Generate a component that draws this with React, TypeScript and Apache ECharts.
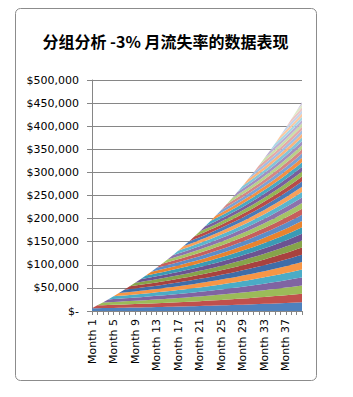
import React, { useEffect, useRef } from "react";
import * as echarts from "echarts";

// Month categories (40 months)
const months: string[] = Array.from({ length: 40 }, (_, i) => `Month ${i + 1}`);

// Revenue of one cohort by its age in months (a new cohort joins every month)
const cohortRevenueByAge: number[] = [
  6000, 6180, 6365, 6556, 6753, 6956, 7164, 7379, 7601, 7829,
  8063, 8305, 8555, 8811, 9076, 9348, 9628, 9917, 10215, 10521,
  10837, 11162, 11497, 11842, 12197, 12563, 12940, 13328, 13728, 14139,
  14564, 15000, 15450, 15914, 16391, 16883, 17390, 17911, 18449, 19002,
];

// Cohort start month index (cohort k starts in month k)
const cohortStarts: number[] = Array.from({ length: 40 }, (_, i) => i);

const yTicks = { min: 0, max: 500000, interval: 50000 };

const titleText = "分组分析 -3% 月流失率的数据表现";

const palette: string[] = [
  "#4F81BD", "#C0504D", "#9BBB59", "#8064A2", "#4BACC6", "#F79646",
  "#3F6DA8", "#A8423F", "#86A44A", "#6C5391", "#3A9BB5", "#E8832F",
  "#5B8DC8", "#C65F5C", "#A5C467", "#8C72AC", "#5AB6CE", "#F8A05A",
  "#4A7BB8", "#B84B48", "#94B655", "#7A5E9C", "#48A8C2", "#F38F45",
  "#7BA3D4", "#D48684", "#B8D189", "#A28FC0", "#82C5D8", "#FAB47E",
  "#A3BEE2", "#E2AAA8", "#CCDEAA", "#BCAED2", "#A8D7E5", "#FCC9A2",
  "#C3D4EC", "#ECC6C5", "#DEE9C8", "#D2C9E2",
];

export default function App() {
  const ref = useRef<HTMLDivElement>(null);
  useEffect(() => {
    if (!ref.current) return;
    const chart = echarts.init(ref.current, undefined, { renderer: "svg" });
    const series = cohortStarts.map((start, k) => ({
      name: `Cohort ${k + 1}`,
      type: "line" as const,
      stack: "total",
      showSymbol: false,
      symbol: "none",
      lineStyle: { width: 0 },
      areaStyle: { color: palette[k % palette.length], opacity: 1 },
      itemStyle: { color: palette[k % palette.length] },
      data: months.map((_, m) => (m < start ? 0 : cohortRevenueByAge[m - start])),
    }));
    chart.setOption({
      animation: false,
      backgroundColor: "#ffffff",
      graphic: [
        {
          type: "rect",
          shape: { x: 15.5, y: 8.5, width: 301, height: 372, r: 5 },
          style: { fill: "#ffffff", stroke: "#8c8c8c", lineWidth: 1 },
          z: -10,
          silent: true,
        },
        {
          type: "text",
          x: 165.5,
          y: 41,
          style: {
            text: titleText,
            fill: "#000000",
            font: 'bold 16px "Noto Sans CJK SC", "DejaVu Sans", sans-serif',
            textAlign: "center",
            textVerticalAlign: "middle",
          },
          z: 10,
        },
      ],
      grid: { left: 92, right: 51, top: 80, bottom: 86, containLabel: false },
      xAxis: {
        type: "category",
        data: months,
        boundaryGap: false,
        axisLine: { show: true, lineStyle: { color: "#868686", width: 1 } },
        axisTick: { show: true, interval: 0, length: 4, lineStyle: { color: "#868686" } },
        axisLabel: {
          interval: 3,
          rotate: 90,
          margin: 8,
          fontSize: 11,
          fontFamily: "DejaVu Sans",
          color: "#000000",
        },
        splitLine: { show: false },
      },
      yAxis: {
        type: "value",
        min: yTicks.min,
        max: yTicks.max,
        interval: yTicks.interval,
        axisLine: { show: true, lineStyle: { color: "#868686", width: 1 } },
        axisTick: { show: true, length: 5, lineStyle: { color: "#868686" } },
        axisLabel: {
          margin: 13,
          fontSize: 11,
          fontFamily: "DejaVu Sans",
          color: "#000000",
          formatter: (v: number) => (v === 0 ? "$-" : "$" + v.toLocaleString("en-US")),
        },
        splitLine: { show: true, lineStyle: { color: "#868686", width: 1 } },
      },
      series,
    });
    return () => chart.dispose();
  }, []);
  return (
    <div
      ref={ref}
      style={{ position: "fixed", left: 0, top: 0, width: 353, height: 397, background: "#fff" }}
    />
  );
}
